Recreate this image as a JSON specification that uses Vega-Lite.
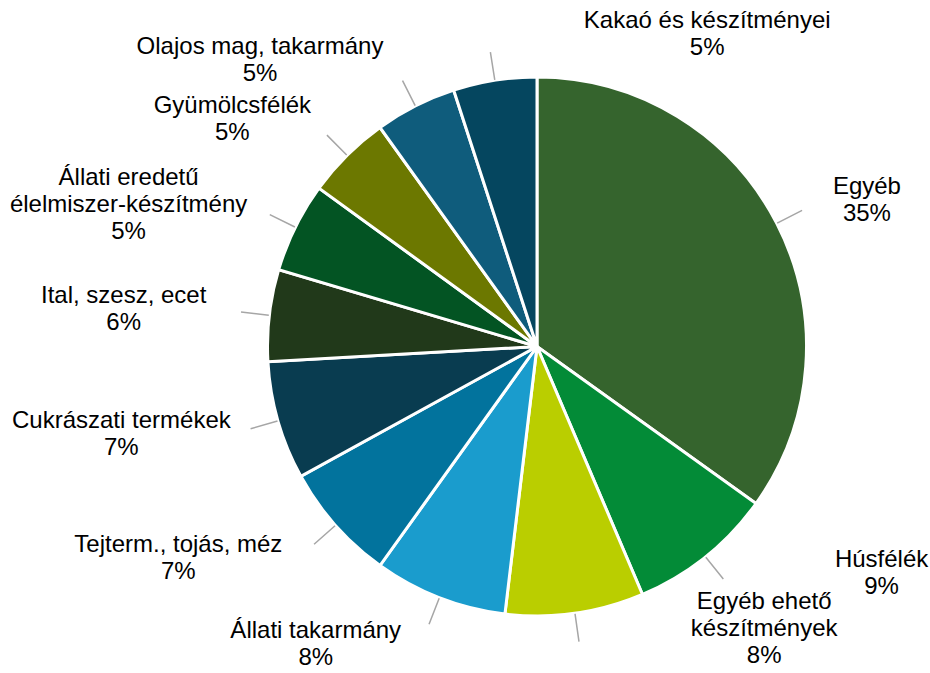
{
  "$schema": "https://vega.github.io/schema/vega-lite/v6.json",
  "width": 786,
  "height": 653,
  "autosize": {"type": "none"},
  "padding": {"left": 144, "top": 20, "right": 0, "bottom": 0},
  "background": "#ffffff",
  "view": {"stroke": null},
  "config": {"font": "Liberation Sans"},
  "data": {
    "values": [
      {"idx": 1, "name": "Egyéb", "value": 34.9, "label": ["Egyéb", "35%"]},
      {"idx": 2, "name": "Húsfélék", "value": 8.7, "label": ["Húsfélék", "9%"]},
      {"idx": 3, "name": "Egyéb ehető készítmények", "value": 8.3, "label": ["Egyéb ehető", "készítmények", "8%"]},
      {"idx": 4, "name": "Állati takarmány", "value": 8.0, "label": ["Állati takarmány", "8%"]},
      {"idx": 5, "name": "Tejterm., tojás, méz", "value": 7.1, "label": ["Tejterm., tojás, méz", "7%"]},
      {"idx": 6, "name": "Cukrászati termékek", "value": 7.1, "label": ["Cukrászati termékek", "7%"]},
      {"idx": 7, "name": "Ital, szesz, ecet", "value": 5.5, "label": ["Ital, szesz, ecet", "6%"]},
      {"idx": 8, "name": "Állati eredetű élelmiszer-készítmény", "value": 5.4, "label": ["Állati eredetű", "élelmiszer-készítmény", "5%"]},
      {"idx": 9, "name": "Gyümölcsfélék", "value": 5.1, "label": ["Gyümölcsfélék", "5%"]},
      {"idx": 10, "name": "Olajos mag, takarmány", "value": 4.9, "label": ["Olajos mag, takarmány", "5%"]},
      {"idx": 11, "name": "Kakaó és készítményei", "value": 5.0, "label": ["Kakaó és készítményei", "5%"]}
    ]
  },
  "encoding": {
    "theta": {"field": "value", "type": "quantitative", "stack": true, "scale": {"domain": [0, 100]}},
    "order": {"field": "idx", "type": "quantitative"}
  },
  "layer": [
    {
      "mark": {"type": "arc", "radius": 269.5, "stroke": "#ffffff", "strokeWidth": 3},
      "encoding": {
        "color": {
          "field": "name",
          "type": "nominal",
          "legend": null,
          "scale": {
            "domain": ["Egyéb", "Húsfélék", "Egyéb ehető készítmények", "Állati takarmány", "Tejterm., tojás, méz", "Cukrászati termékek", "Ital, szesz, ecet", "Állati eredetű élelmiszer-készítmény", "Gyümölcsfélék", "Olajos mag, takarmány", "Kakaó és készítményei"],
            "range": ["#35642D", "#038B37", "#BACE00", "#1A9CCD", "#02739D", "#093C50", "#21391A", "#035423", "#6C7800", "#0F5C7C", "#05465F"]
          }
        }
      }
    },
    {
      "mark": {"type": "arc", "radius": 298, "radius2": 270, "padAngle": 3, "filled": false, "color": "#A6A6A6", "strokeWidth": 1.5}
    },
    {
      "mark": {
        "type": "text",
        "radius": 295,
        "align": "center",
        "baseline": "middle",
        "fontSize": 24,
        "lineHeight": 27,
        "color": "#000000",
        "dy": {"expr": "-(length(datum.label) - 1) * 13.5 + ((((datum.value_start + datum.value_end) / 200 < 0.5 || (datum.value_start + datum.value_end) / 200 > 0.95)) ? (-18 * max(0, cos(PI * (datum.value_start + datum.value_end) / 100)) - 3 - 7 * max(0, -cos(PI * (datum.value_start + datum.value_end) / 100) - 0.9) * 10) : (-25 * cos(PI * (datum.value_start + datum.value_end) / 100)))"},
        "dx": {"expr": "((datum.value_start + datum.value_end) / 200 < 0.5 || (datum.value_start + datum.value_end) / 200 > 0.95) ? (5.9 * max(length(datum.label[0]), length(datum.label[1]), length(datum.label[2] || '')) + 8 + 30 + 96 * min(0.8, max(0, -cos(PI * (datum.value_start + datum.value_end) / 100))) + (cos(PI * (datum.value_start + datum.value_end) / 100) > 0 ? 1250 * max(0, 0.2 - abs(sin(PI * (datum.value_start + datum.value_end) / 100))) : 0)) : -(5.9 * max(length(datum.label[0]), length(datum.label[1]), length(datum.label[2] || '')) + 8 + 12)"}
      },
      "encoding": {
        "text": {"field": "label", "type": "nominal"}
      }
    }
  ]
}
